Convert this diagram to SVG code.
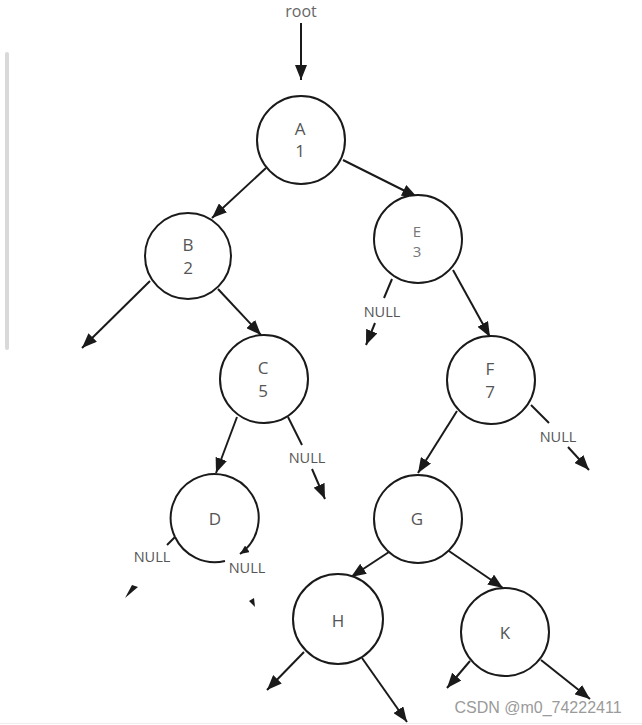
<svg xmlns="http://www.w3.org/2000/svg" width="642" height="725" viewBox="0 0 642 725">
<defs>
<marker id="ah" markerUnits="userSpaceOnUse" markerWidth="16" markerHeight="12" refX="15" refY="6" orient="auto">
<path d="M0,0 L15,6 L0,12 z" fill="#1a1a1a"/>
</marker>
<marker id="ahs" markerUnits="userSpaceOnUse" markerWidth="10" markerHeight="8" refX="9" refY="4" orient="auto">
<path d="M0,0 L9,4 L0,8 z" fill="#1a1a1a"/>
</marker>
<style>
.n{fill:#fff;stroke:#1a1a1a;stroke-width:2}
.t{font-family:"Open Sans","Noto Sans",sans-serif;font-size:17px;fill:#555;text-anchor:middle}
.te{font-family:"Open Sans","Noto Sans",sans-serif;font-size:15px;fill:#777;text-anchor:middle}
.nl{font-family:"Open Sans","Noto Sans",sans-serif;font-size:14.5px;fill:#555;text-anchor:middle}
.c{stroke:#1a1a1a;stroke-width:2;fill:none}
.a{marker-end:url(#ah)}
</style>
</defs>
<rect width="642" height="725" fill="#fff"/>
<rect x="5" y="52" width="4" height="298" rx="2" fill="#d9d9d9"/>
<line x1="0" y1="723.5" x2="642" y2="723.5" stroke="#eeeeee" stroke-width="1"/>
<text x="301" y="17" class="t" style="font-size:16px;fill:#666">root</text>

<g id="connectors">
<line class="c a" x1="301" y1="23" x2="301" y2="80"/>
<line class="c a" x1="266" y1="168" x2="212" y2="218"/>
<line class="c a" x1="343" y1="160" x2="417" y2="197"/>
<line class="c a" x1="150" y1="281" x2="82" y2="348"/>
<line class="c a" x1="218" y1="289" x2="261" y2="335"/>
<line class="c a" x1="237" y1="417" x2="216" y2="473"/>
<line class="c" x1="288" y1="417" x2="302" y2="445"/>
<line class="c a" x1="312" y1="469" x2="325" y2="499"/>
<line class="c" x1="392" y1="279" x2="384" y2="298"/>
<line class="c a" x1="375" y1="323" x2="366" y2="345"/>
<line class="c a" x1="453" y1="270" x2="490" y2="337"/>
<line class="c" x1="531" y1="405" x2="549" y2="423"/>
<line class="c a" x1="568" y1="447" x2="589" y2="470"/>
<line class="c a" x1="457" y1="411" x2="418" y2="473"/>
<line class="c a" x1="392" y1="550" x2="351" y2="577"/>
<line class="c a" x1="446" y1="549" x2="503" y2="588"/>
<line class="c a" x1="304" y1="652" x2="267" y2="690"/>
<line class="c a" x1="362" y1="658" x2="407" y2="722"/>
<line class="c a" x1="470" y1="661" x2="447" y2="688"/>
<line class="c a" x1="541" y1="660" x2="590" y2="699"/>
<line class="c" x1="175" y1="537" x2="167" y2="545"/>
<path d="M125,598 L138,587 L132,585 z" fill="#1a1a1a"/>
<path d="M255,607 L254,598 L249,601 z" fill="#1a1a1a"/>
</g>

<g id="A"><circle class="n" cx="301" cy="140" r="44"/><text class="t" x="300" y="135">A</text><text class="t" x="300" y="157">1</text></g>
<g id="B"><circle class="n" cx="188" cy="256" r="43"/><text class="t" x="188" y="251">B</text><text class="t" x="188" y="274">2</text></g>
<g id="C"><circle class="n" cx="264" cy="379" r="44"/><text class="t" x="263" y="374">C</text><text class="t" x="263" y="397">5</text></g>
<g id="D">
<path class="c" d="M175,537 A44,44 0 1 1 240,554" style="marker-end:url(#ahs)"/>
<path class="c" d="M225,561 A44,44 0 0 1 175,537"/>
<text class="t" x="215" y="525">D</text>
<text class="nl" x="152" y="562">NULL</text>
<text class="nl" x="247" y="573">NULL</text>
</g>
<g id="E"><circle class="n" cx="418" cy="239" r="44"/><text class="te" x="417" y="237">E</text><text class="te" x="417" y="257">3</text><text class="nl" x="382" y="317">NULL</text></g>
<g id="F"><circle class="n" cx="491" cy="380" r="44"/><text class="t" x="490" y="375">F</text><text class="t" x="490" y="398">7</text><text class="nl" x="558" y="442">NULL</text></g>
<text class="nl" x="307" y="463">NULL</text>
<g id="G"><circle class="n" cx="418" cy="519" r="44"/><text class="t" x="417" y="525">G</text></g>
<g id="H"><circle class="n" cx="338" cy="619" r="45"/><text class="t" x="338" y="627">H</text></g>
<g id="K"><circle class="n" cx="505" cy="632" r="44"/><text class="t" x="505" y="639">K</text></g>
<text x="538" y="713" style="font-family:'Liberation Sans',Arial,sans-serif;font-size:16px;fill:#9a9a9a;text-anchor:middle">CSDN @m0_74222411</text>
</svg>
